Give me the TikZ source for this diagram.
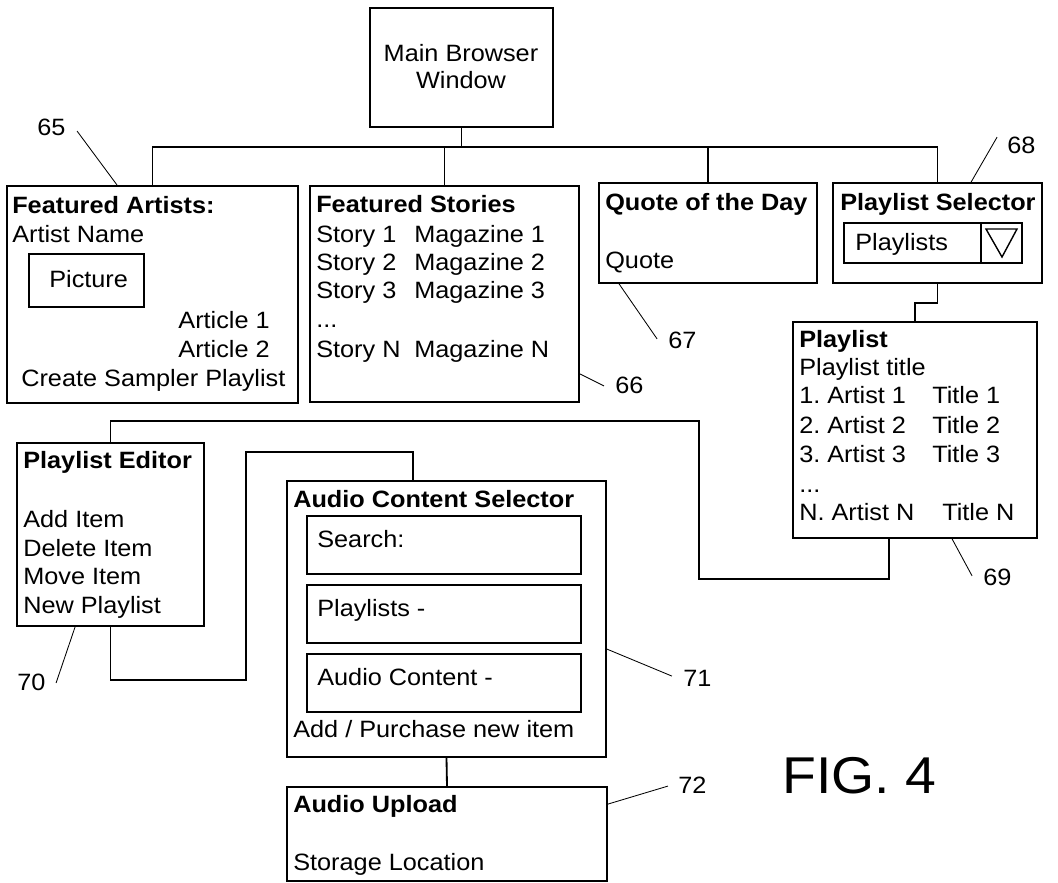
\documentclass[tikz,border=0pt]{standalone}
\usepackage{fontspec}
\setmainfont{Liberation Sans}[FakeStretch=1.07]
\usetikzlibrary{fit}

\tikzset{
  win/.style={draw, line width=1.3pt, inner sep=0pt},
  txt/.style={anchor=base west, inner sep=0pt},
  link/.style={line width=1.3pt},
  lead/.style={line width=0.6pt},
}

\begin{document}
\begin{tikzpicture}[x=0.025cm, y=-0.025cm, font=\fontsize{16.8}{20}\selectfont]
	\useasboundingbox (0,0) rectangle (1058,882);
	%\draw[help lines] (0,0) grid[step=50] (1058,882);
	% windows
	\node[win, fit={(370,8) (553,127)}] (main) {};
	\node[win, fit={(7,186) (298,403)}] (artists) {};
	\node[win, fit={(310,186) (579,402)}] (stories) {};
	\node[win, fit={(599,183) (817,283)}] (quote) {};
	\node[win, fit={(833,183) (1042,283)}] (selector) {};
	\node[win, fit={(793,322) (1037,538)}] (playlist) {};
	\node[win, fit={(17,443) (204,626)}] (editor) {};
	\node[win, fit={(287,481) (606,757)}] (acs) {};
	\node[win, fit={(287,787) (607,881)}] (upload) {};

	% main window
	\node[txt, anchor=base] (mainT) at (461,61) {Main Browser};
	\node[txt, anchor=base] (mainW) at (461,88) {Window};

	% featured artists
	\node[txt] (artT) at (12,213) {\bfseries Featured Artists:};
	\node[txt] (artName) at (12,242) {Artist Name};
	\node[win, fit={(29,254) (144,307)}] (pic) {};
	\node[txt] (picT) at (49,287) {Picture};
	\node[txt, anchor=base east] (art1) at (270,328) {Article 1};
	\node[txt, anchor=base east] (art2) at (270,357) {Article 2};
	\node[txt] (sampler) at (21,386) {Create Sampler Playlist};

	% featured stories
	\node[txt] (stT) at (316,212) {\bfseries Featured Stories};
	\foreach \i/\y in {1/242,2/270,3/298,N/357} {
		\node[txt] (st\i) at (316,\y) {Story \i};
		\node[txt] (mg\i) at (414,\y) {Magazine \i};
	}
	\node[txt] (stDots) at (316,327) {...};

	% quote
	\node[txt] (qT) at (605,210) {\bfseries Quote of the Day};
	\node[txt] (qq) at (605,268) {Quote};

	% playlist selector
	\node[txt] (selT) at (840,210) {\bfseries Playlist Selector};
	\node[win, fit={(844,223) (1022,263)}] (drop) {};
	\node[txt] (dropT) at (855,250) {Playlists};
	\draw[link] (drop.north -| 981,0) -- (drop.south -| 981,0);
	\draw[line width=1pt] (986,229) -- (1017,229) -- (1002,257) -- cycle;

	% playlist
	\node[txt] (plT) at (799,347) {\bfseries Playlist};
	\node[txt] (plTitle) at (799,375) {Playlist title};
	\foreach \i/\y in {1/403,2/433,3/462} {
		\node[txt] (pa\i) at (799,\y) {\i.\ Artist \i};
		\node[txt] (pt\i) at (932,\y) {Title \i};
	}
	\node[txt] (plDots) at (799,492) {...};
	\node[txt] (paN) at (799,520) {N.\ Artist N};
	\node[txt] (ptN) at (942,520) {Title N};

	% playlist editor
	\node[txt] (edT) at (23,468) {\bfseries Playlist Editor};
	\foreach \t/\y [count=\k] in {Add Item/527,Delete Item/556,Move Item/584,New Playlist/613}
		\node[txt] (ed\k) at (23,\y) {\t};

	% audio content selector
	\node[txt] (acsT) at (293,507) {\bfseries Audio Content Selector};
	\foreach \n/\t/\y in {search/Search:/516,lists/Playlists -/585,audio/Audio Content -/654} {
		\node[win, fit={(307,\y) (581,\y+58)}] (\n) {};
		\node[txt] (\n T) at (317,\y+31) {\t};
	}
	\node[txt] (purchase) at (293,737) {Add / Purchase new item};

	% audio upload
	\node[txt] (upT) at (293,812) {\bfseries Audio Upload};
	\node[txt] (storage) at (293,870) {Storage Location};

	% connectors
	\draw[link] (main.south) -- ++(0,19) coordinate (bus);
	\draw[link] (artists.north) |- (bus) -| (selector.north);
	\draw[link] (stories.north) -- (stories.north |- bus);
	\draw[link] (quote.north) -- (quote.north |- bus);
	\draw[link] (selector.south) -- ++(0,19) -| (playlist.north);
	\draw[link] (playlist.south -| 889,0) -- ++(0,40) -| (699,421) -| (editor.north);
	\draw[link] (editor.south) -- ++(0,53) -| (246,452) -| (acs.north -| 413,0);
	\draw[link] (acs.south) -- (upload.north);

	% reference numbers
	\draw[lead] ([shift={(111,0)}]artists.north west) -- ++(-40,-54) coordinate (e65);
	\draw[lead] ([shift={(0,-29)}]stories.south east) -- ++(24,12) coordinate (e66);
	\draw[lead] ([shift={(21,0)}]quote.south west) -- ++(38,55) coordinate (e67);
	\draw[lead] ([shift={(139,0)}]selector.north west) -- ++(26,-45) coordinate (e68);
	\draw[lead] ([shift={(160,0)}]playlist.south west) -- ++(20,37) coordinate (e69);
	\draw[lead] ([shift={(59,0)}]editor.south west) -- ++(-19,56) coordinate (e70);
	\draw[lead] ([shift={(0,169)}]acs.north east) -- ++(65,27) coordinate (e71);
	\draw[lead] ([shift={(0,18)}]upload.north east) -- ++(60,-18) coordinate (e72);
	\node[txt] (n65) at (37,135) {65};
	\node[txt] (n66) at (615,393) {66};
	\node[txt] (n67) at (668,348) {67};
	\node[txt] (n68) at (1007,153) {68};
	\node[txt] (n69) at (983,585) {69};
	\node[txt] (n70) at (17,690) {70};
	\node[txt] (n71) at (683,686) {71};
	\node[txt] (n72) at (678,793) {72};

	\node[txt, font=\fontsize{36.8}{40}\selectfont] (fig) at (782,793) {FIG. 4};
\end{tikzpicture}
\end{document}
